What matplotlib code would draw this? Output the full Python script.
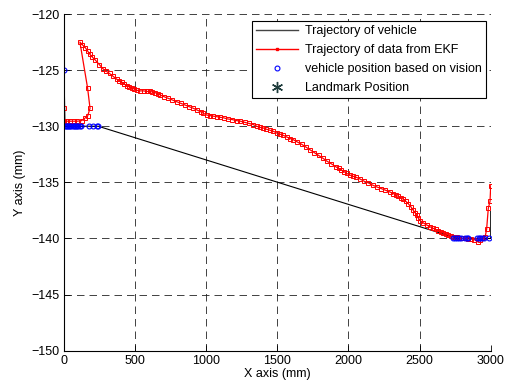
import numpy as np
import matplotlib
matplotlib.use("Agg")
import matplotlib.pyplot as plt
from matplotlib.lines import Line2D

plt.rcParams['font.family'] = ['Liberation Sans', 'DejaVu Sans']

# true vehicle path
veh_x = [0, 7, 241, 2767, 3000, 3000]
veh_y = [-125, -130, -130, -140, -140, -137.6]

# EKF estimate
ekf_x = [0, 0, 20, 45, 70, 95, 124, 145, 166, 183, 166, 112,
         130, 150, 166, 183, 200, 220, 248, 276, 298, 320, 345, 370, 390,
         410, 425, 441, 460, 480, 495, 511, 535, 560, 582, 605, 622, 640,
         658, 675, 700, 730, 760, 792, 820, 850, 880, 909, 935, 960, 980,
         1003, 1025, 1050, 1075, 1097, 1122, 1150, 1180, 1214, 1240, 1270,
         1300, 1331, 1355, 1378, 1400, 1420, 1445, 1472, 1495, 1518, 1540,
         1565, 1590, 1612, 1640, 1670, 1700, 1729, 1760, 1790, 1820, 1847,
         1880, 1910, 1930, 1950, 1970, 1987, 2010, 2030, 2055, 2081, 2110,
         2140, 2170, 2198, 2230, 2260, 2290, 2315, 2335, 2350, 2368, 2386,
         2404, 2420, 2440, 2456, 2468, 2480, 2492, 2503, 2525, 2550, 2572,
         2596, 2612, 2630, 2648, 2667, 2685, 2700, 2718, 2737, 2760, 2780,
         2800, 2820, 2840, 2860, 2885, 2908, 2925, 2940, 2960, 2971, 2983,
         2995, 3000]
ekf_y = [-128.4, -129.55, -129.55, -129.55, -129.55, -129.55, -129.5, -129.3,
         -129.1, -128.4, -126.6, -122.5,
         -122.75, -123.0, -123.3, -123.6, -123.85, -124.1, -124.5, -124.9,
         -125.1, -125.3, -125.55, -125.8, -125.95, -126.1, -126.25, -126.4,
         -126.5, -126.6, -126.7, -126.8, -126.85, -126.85, -126.9, -126.9,
         -126.95, -127.0, -127.1, -127.2, -127.35, -127.5, -127.65, -127.8,
         -127.95, -128.1, -128.25, -128.4, -128.55, -128.7, -128.85, -129.0,
         -129.05, -129.1, -129.15, -129.2, -129.25, -129.35, -129.4, -129.5,
         -129.55, -129.65, -129.75, -129.85, -130.0, -130.1, -130.15, -130.25,
         -130.35, -130.45, -130.6, -130.7, -130.8, -130.95, -131.1, -131.2,
         -131.4, -131.6, -131.85, -132.1, -132.35, -132.6, -132.85, -133.1,
         -133.35, -133.6, -133.75, -133.9, -134.05, -134.2, -134.35, -134.45,
         -134.55, -134.7, -134.9, -135.05, -135.25, -135.4, -135.55, -135.7,
         -135.85, -136.0, -136.15, -136.25, -136.4, -136.5, -136.7, -136.9,
         -137.2, -137.5, -137.7, -137.95, -138.2, -138.4, -138.6, -138.8,
         -138.95, -139.1, -139.2, -139.3, -139.4, -139.5, -139.6, -139.7,
         -139.8, -139.85, -139.9, -139.95, -140.0, -140.0, -140.05, -140.05,
         -140.1, -140.3, -140.1, -140.0, -139.9, -139.2, -137.3, -136.7,
         -135.3]

# vision based positions
vis_x = [0, 5, 12, 20, 28, 36, 44, 52, 60, 68, 76, 84, 92, 100, 110, 120,
         178, 204, 232, 241,
         2737, 2750, 2762, 2775, 2789, 2820, 2832, 2843, 2902, 2915, 2928,
         2940, 2953, 2990]
vis_y = [-125] + [-130] * 19 + [-140] * 14

fig = plt.figure(figsize=(5.07, 3.85), dpi=100)
ax = fig.add_axes([0.1262, 0.0891, 0.8417, 0.8745])

ax.plot(veh_x, veh_y, color='black', lw=0.8, label='Trajectory of vehicle')
ax.plot(ekf_x, ekf_y, color='red', lw=0.9, marker='s', ms=2.4,
        mfc='none', mec='red', mew=0.7, label='Trajectory of data from EKF')
ax.plot(vis_x, vis_y, ls='none', marker='o', ms=3.5, mfc='none',
        mec='blue', mew=0.8, label='vehicle position based on vision')

ax.set_xlim(0, 3000)
ax.set_ylim(-150, -120)
ax.set_xticks(np.arange(0, 3001, 500))
ax.set_yticks(np.arange(-150, -119, 5))
ax.grid(True, color='#222222', ls=(0, (9, 6)), lw=0.6)
ax.spines['top'].set_visible(False)
ax.spines['right'].set_visible(False)
ax.tick_params(direction='in', length=4, width=0.6, labelsize=9, pad=3)
for s in ['left', 'bottom']:
    ax.spines[s].set_linewidth(0.8)
ax.set_xlabel('X axis (mm)', fontsize=9, labelpad=1)
ax.set_ylabel('Y axis (mm)', fontsize=9, labelpad=4)

handles = [
    Line2D([], [], color='#444444', lw=1.0),
    Line2D([], [], color='red', lw=1.0, marker='s', ms=2, mfc='red', mec='red'),
    Line2D([], [], ls='none', marker='o', ms=3.5, mfc='none', mec='blue', mew=0.8),
    Line2D([], [], ls='none', marker=(6, 2, 0), ms=8, color='#1e3c3c', mew=1.0),
]
labels = ['Trajectory of vehicle', 'Trajectory of data from EKF',
          'vehicle position based on vision', 'Landmark Position']
leg = ax.legend(handles, labels, loc='upper right', bbox_to_anchor=(0.99, 0.98),
                borderaxespad=0, fontsize=9, fancybox=False, framealpha=1,
                edgecolor='black', handlelength=3.3, labelspacing=0.56,
                borderpad=0.35, handletextpad=0.6)
leg.get_frame().set_linewidth(0.8)

fig.savefig('out.png', dpi=100)
